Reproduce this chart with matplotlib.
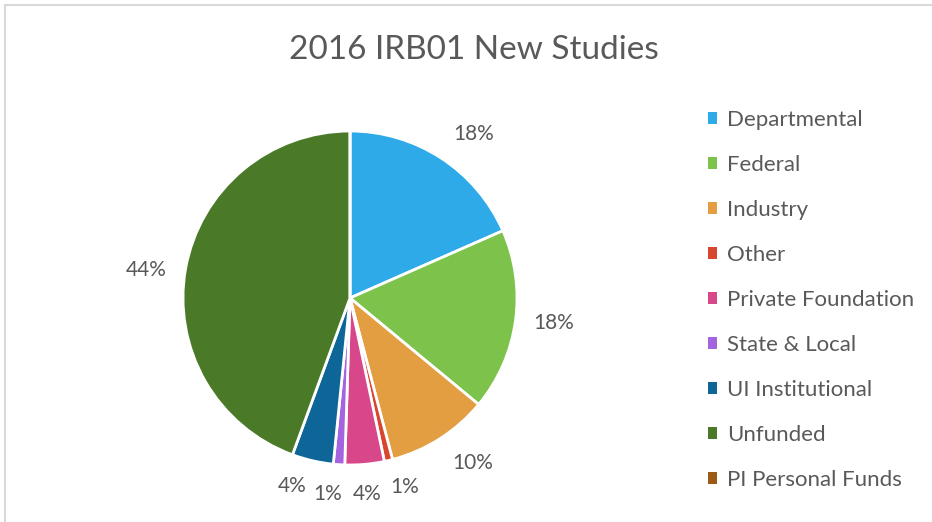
import matplotlib
matplotlib.use("Agg")

import numpy as np
import matplotlib.pyplot as plt
from matplotlib.patches import Patch, Rectangle

plt.rcParams["font.family"] = ["Lato", "DejaVu Sans"]

categories = ["Departmental", "Federal", "Industry", "Other", "Private Foundation",
              "State & Local", "UI Institutional", "Unfunded", "PI Personal Funds"]
shares = [18.4, 17.6, 9.9, 0.8, 3.8, 1.1, 4.0, 44.4, 0.0]
colors = ["#2EAAE9", "#7DC34B", "#E39E42", "#D9462F", "#D8478A",
          "#A464E0", "#0D6697", "#4A7A28", "#9C5A14"]
# Excel spreads the data labels a little around the slice middles (degrees)
label_nudge = [-4, 1, 4, 2.7, 0, -2.7, -4, 2.2, 0]
text_color = "#595959"

W, H = 932, 522
fig = plt.figure(figsize=(W / 100, H / 100), dpi=100)

# chart frame (light grey on left and top only, like the cropped screenshot)
fig.add_artist(Rectangle((5 / W, -0.1), 1.2, 1 - 5 / H + 0.1, transform=fig.transFigure,
                         fill=False, edgecolor="#d9d9d9", linewidth=1.5))

cx, cy, r = 350, 298, 167
ax = fig.add_axes([(cx - r) / W, (H - cy - r) / H, 2 * r / W, 2 * r / H])
wedges, _ = ax.pie(shares, colors=colors, startangle=90, counterclock=False,
                   radius=1, wedgeprops=dict(edgecolor="white", linewidth=2))
ax.set_xlim(-1, 1)
ax.set_ylim(-1, 1)
ax.set_aspect("equal")
ax.axis("off")

for w, s, nudge in zip(wedges, shares, label_nudge):
    if s <= 0:
        continue
    mid = np.deg2rad((w.theta1 + w.theta2) / 2 + nudge)
    d = 1.23 if s >= 5 else 1.18
    ax.text(d * np.cos(mid), d * np.sin(mid), f"{round(s):.0f}%", ha="center", va="center",
            fontsize=15, color=text_color)

fig.text(474 / W, 1 - 50 / H, "2016 IRB01 New Studies", ha="center", va="center",
         fontsize=24, color=text_color)

handles = [Patch(facecolor=c, edgecolor="none") for c in colors]
fig.legend(handles, categories, loc="upper left", bbox_to_anchor=(708 / W, 1 - 110 / H),
           frameon=False, fontsize=16, labelcolor=text_color, handlelength=0.42,
           handleheight=0.42, handletextpad=0.45, labelspacing=1.125, borderpad=0,
           borderaxespad=0)

fig.savefig("out.png", dpi=100)
